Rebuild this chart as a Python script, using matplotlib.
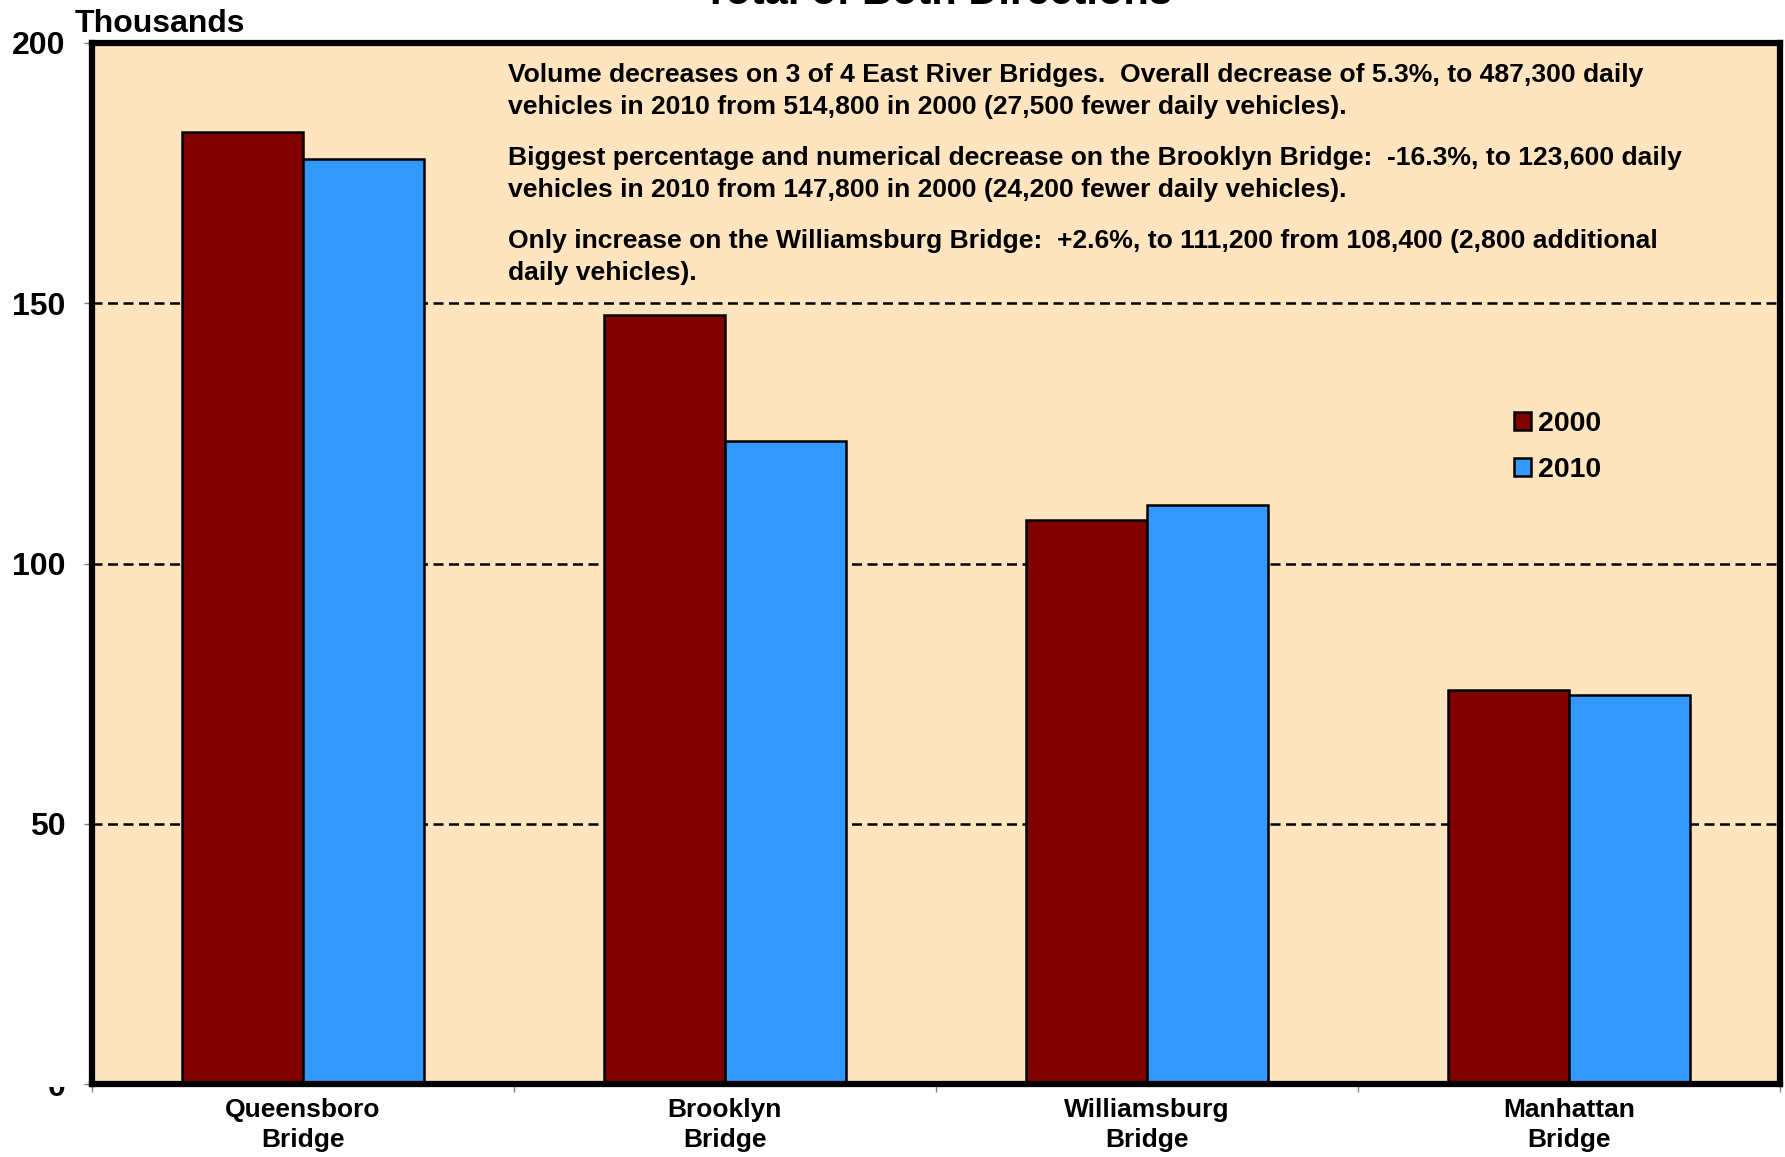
import matplotlib
matplotlib.use("Agg")
import matplotlib.pyplot as plt
from matplotlib.patches import Rectangle
from matplotlib.transforms import offset_copy
import numpy as np

plt.rcParams['font.family'] = ['Liberation Sans', 'DejaVu Sans']
plt.rcParams['font.weight'] = 'bold'

# Average weekday vehicle volumes, both directions (thousands)
bridges = ["Queensboro\nBridge", "Brooklyn\nBridge", "Williamsburg\nBridge", "Manhattan\nBridge"]
vol_2000 = [182.9, 147.8, 108.4, 75.7]
vol_2010 = [177.7, 123.6, 111.2, 74.8]
years = ["2000", "2010"]
y_ticks = [0, 50, 100, 150, 200]

note_lines = [
    "Volume decreases on 3 of 4 East River Bridges.  Overall decrease of 5.3%, to 487,300 daily",
    "vehicles in 2010 from 514,800 in 2000 (27,500 fewer daily vehicles).",
    "Biggest percentage and numerical decrease on the Brooklyn Bridge:  -16.3%, to 123,600 daily",
    "vehicles in 2010 from 147,800 in 2000 (24,200 fewer daily vehicles).",
    "Only increase on the Williamsburg Bridge:  +2.6%, to 111,200 from 108,400 (2,800 additional",
    "daily vehicles).",
]

W, H = 1785, 1157
RED = "#800000"
BLUE = "#3399FF"
PANEL = "#FFE5BF"


def fx(px):
    return px / W


def fy(py):
    return 1 - py / H


fig = plt.figure(figsize=(W / 100, H / 100), dpi=100)
ax = fig.add_axes([fx(91.5), fy(1084), (1780 - 91.5) / W, (1084 - 43) / H])
ax.set_facecolor(PANEL)

x = np.arange(len(bridges))
bw = 0.2865
b1 = ax.bar(x - bw / 2, vol_2000, bw, color=RED, edgecolor="black", linewidth=1.8, label=years[0])
b2 = ax.bar(x + bw / 2, vol_2010, bw, color=BLUE, edgecolor="black", linewidth=1.8, label=years[1])

ax.set_xlim(-0.5, len(bridges) - 0.5)
ax.set_ylim(0, 200)

# dashed gridlines behind the bars
ax.set_axisbelow(True)
ax.grid(axis="y", color="black", linewidth=1.8, linestyle=(0, (4.0, 2.2)))

for sp in ax.spines.values():
    sp.set_linewidth(4.5)
    sp.set_capstyle("projecting")

ax.set_yticks(y_ticks)
ax.set_yticklabels(["" if v == 0 else str(v) for v in y_ticks])
ax.tick_params(axis="y", length=6, width=1, color="#808080", pad=12.5, labelsize=23)

ax.set_xticks(x)
ax.set_xticklabels(bridges, fontsize=19, linespacing=1.33)
ax.tick_params(axis="x", which="major", length=0, pad=9.8)
ax.set_xticks(np.arange(-0.5, len(bridges)), minor=True)
ax.tick_params(axis="x", which="minor", length=6, width=1, color="#808080")

# the "0" label sits partly under the plot frame
zero = fig.text(0, 0, "0", fontsize=23, ha="right", va="center_baseline",
                transform=offset_copy(ax.get_yaxis_transform(), fig=fig, x=-18.5, y=0, units="points"))
zero.set_clip_path(Rectangle((0, 0), 1, fy(1087), transform=fig.transFigure))
zero.set_clip_on(True)

leg = ax.legend(handles=[b1, b2], loc="upper left", bbox_to_anchor=(fx(1514), fy(411)),
                bbox_transform=fig.transFigure, frameon=False, fontsize=20.5,
                handlelength=0.6, handleheight=0.6, handletextpad=0.25,
                labelspacing=0.7, borderpad=0, borderaxespad=0)

baselines = [82.3, 114, 165, 197, 248, 280]
for line, yb in zip(note_lines, baselines):
    fig.text(fx(508), fy(yb), line, fontsize=19.05, ha="left", va="baseline")

fig.text(fx(75), fy(31.7), "Thousands", fontsize=23, ha="left", va="baseline")
fig.text(fx(938), fy(4), "Total of Both Directions", fontsize=30, ha="center", va="baseline")

fig.savefig("out.png", dpi=100)
